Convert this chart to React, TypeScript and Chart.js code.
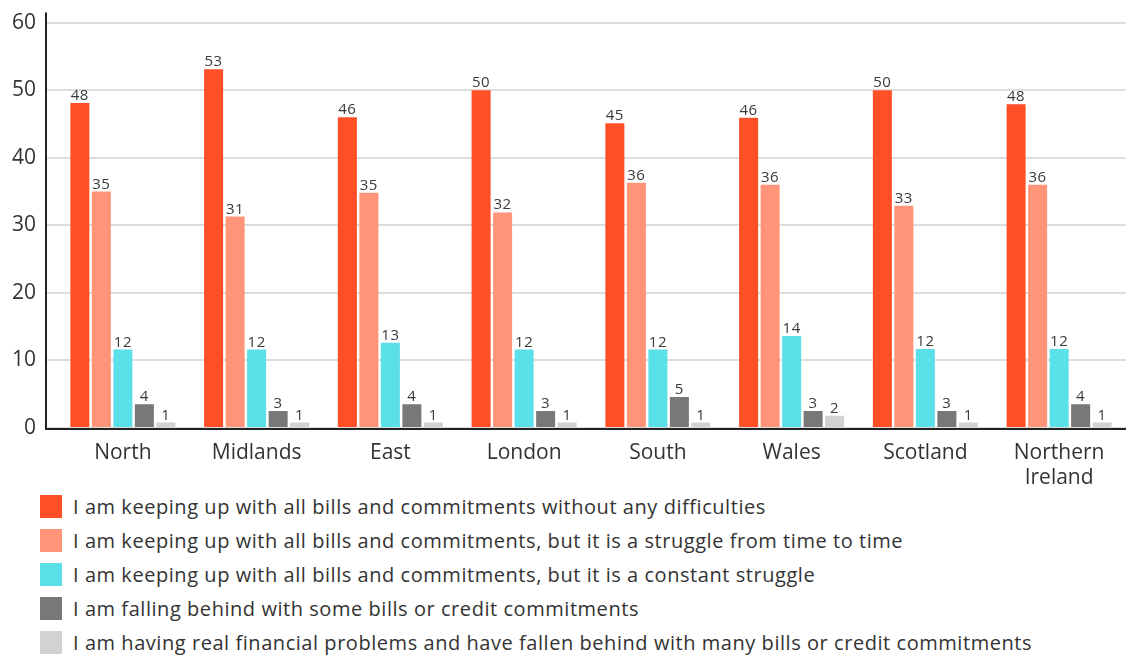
import React, { useEffect, useRef } from 'react';
import { Chart, registerables } from 'chart.js';

Chart.register(...registerables);

const categories: (string | string[])[] = ['North', 'Midlands', 'East', 'London', 'South', 'Wales', 'Scotland', ['Northern', 'Ireland']];

const seriesNames = [
  'I am keeping up with all bills and commitments without any difficulties',
  'I am keeping up with all bills and commitments, but it is a struggle from time to time',
  'I am keeping up with all bills and commitments, but it is a constant struggle',
  'I am falling behind with some bills or credit commitments',
  'I am having real financial problems and have fallen behind with many bills or credit commitments',
];

const noDifficulties = [48.1, 53.1, 46.0, 50.0, 45.1, 45.9, 50.0, 47.9];
const struggleTimeToTime = [35.0, 31.3, 34.8, 31.9, 36.3, 36.0, 32.9, 36.0];
const constantStruggle = [11.6, 11.6, 12.6, 11.6, 11.6, 13.6, 11.7, 11.7];
const fallingBehindSome = [3.5, 2.5, 3.5, 2.5, 4.6, 2.5, 2.5, 3.5];
const realProblems = [0.8, 0.8, 0.8, 0.8, 0.8, 1.8, 0.8, 0.8];

const seriesColors = ['#FF4F27', '#FF9478', '#5AE0E8', '#787878', '#D2D2D2'];

const yMin = 0;
const yMax = 60;
const yStep = 10;

const FONT = '"Open Sans", Lato, sans-serif';
const TEXT = '#333333';

const valueLabelsPlugin = {
  id: 'valueLabels',
  afterDatasetsDraw(chart: any) {
    const { ctx } = chart;
    ctx.save();
    ctx.font = `15px ${FONT}`;
    try { (ctx as any).letterSpacing = '0.5px'; } catch (e) { /* ignore */ }
    ctx.fillStyle = '#3a3a3a';
    ctx.textAlign = 'center';
    ctx.textBaseline = 'alphabetic';
    chart.data.datasets.forEach((ds: any, di: number) => {
      const meta = chart.getDatasetMeta(di);
      meta.data.forEach((bar: any, i: number) => {
        const v = ds.data[i];
        ctx.fillText(String(Math.round(v)), bar.x, bar.y - 3);
      });
    });
    ctx.restore();
  },
};

const axisLinesPlugin = {
  id: 'axisLines',
  afterDraw(chart: any) {
    const { ctx, chartArea } = chart;
    const zeroY = chart.scales.y.getPixelForValue(0);
    const x0 = chartArea.left - 10;
    ctx.save();
    ctx.strokeStyle = '#222222';
    ctx.lineWidth = 2;
    ctx.beginPath();
    ctx.moveTo(x0, chartArea.top - 10);
    ctx.lineTo(x0, zeroY + 2);
    ctx.moveTo(x0 - 1, zeroY + 1);
    ctx.lineTo(chartArea.right, zeroY + 1);
    ctx.stroke();
    ctx.restore();
  },
};

export default function App() {
  const canvasRef = useRef<HTMLCanvasElement | null>(null);

  useEffect(() => {
    document.body.style.margin = '0';
    const canvas = canvasRef.current;
    if (!canvas) return;
    const allSeries = [noDifficulties, struggleTimeToTime, constantStruggle, fallingBehindSome, realProblems];
    const chart = new Chart(canvas, {
      type: 'bar',
      data: {
        labels: categories as any,
        datasets: allSeries.map((d, i) => ({
          label: seriesNames[i],
          data: d,
          backgroundColor: seriesColors[i],
          borderWidth: 0,
          categoryPercentage: 0.804,
          barPercentage: 0.884,
        })),
      },
      options: {
        responsive: false,
        animation: false,
        devicePixelRatio: 1,
        layout: { padding: { top: 21, right: 0, bottom: 0, left: 0 } },
        plugins: {
          legend: { display: false },
          tooltip: { enabled: false },
        },
        scales: {
          x: {
            grid: { display: false, drawTicks: false },
            border: { display: false },
            ticks: {
              color: TEXT,
              font: { family: FONT, size: 21, lineHeight: 1.22 },
              padding: 12,
              maxRotation: 0,
              autoSkip: false,
            },
            afterFit: (scale: any) => {
              scale.height = 490 - 428;
            },
          },
          y: {
            min: yMin,
            max: yMax,
            grid: { color: '#DDDDDD', lineWidth: 2, drawTicks: true, tickLength: 10 },
            border: { display: false },
            ticks: {
              stepSize: yStep,
              color: TEXT,
              font: { family: FONT, size: 21 },
              padding: 10,
            },
            afterFit: (scale: any) => {
              scale.width = 56;
            },
          },
        },
      },
      plugins: [valueLabelsPlugin, axisLinesPlugin],
    });
    return () => chart.destroy();
  }, []);

  return (
    <div style={{ position: 'relative', width: 1126, height: 655, fontFamily: FONT }}>
      <canvas ref={canvasRef} width={1126} height={490} style={{ position: 'absolute', left: 0, top: 0 }} />
      {seriesNames.map((name, i) => (
        <div
          key={name}
          style={{ position: 'absolute', left: 0, top: 495 + i * 34, height: 23, width: 1126 }}
        >
          <div
            style={{
              position: 'absolute',
              left: 40,
              top: 0,
              width: 22,
              height: 23,
              background: seriesColors[i],
            }}
          />
          <div
            style={{
              position: 'absolute',
              left: 73,
              top: 0,
              height: 23,
              lineHeight: '23px',
              fontSize: 20,
              letterSpacing: '0.55px',
              color: TEXT,
              whiteSpace: 'nowrap',
            }}
          >
            {name}
          </div>
        </div>
      ))}
    </div>
  );
}
